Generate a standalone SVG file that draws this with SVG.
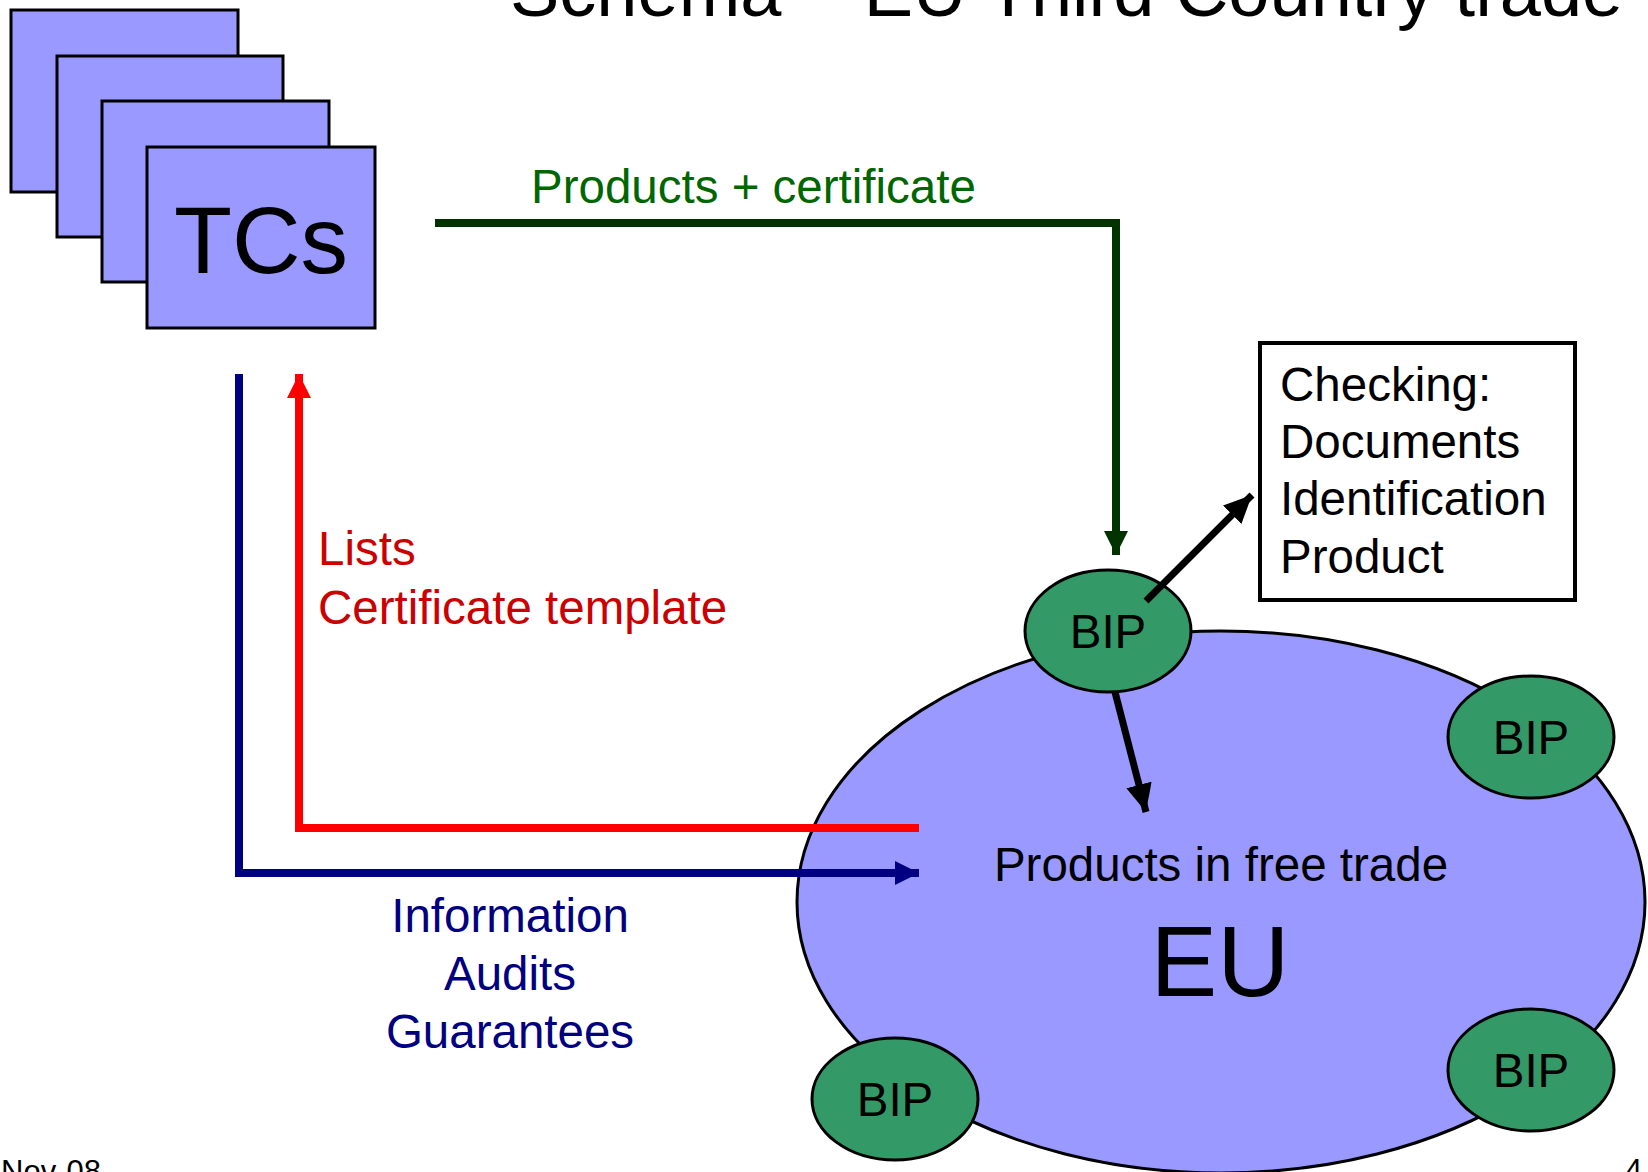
<svg xmlns="http://www.w3.org/2000/svg" width="1648" height="1172" viewBox="0 0 1648 1172">
<defs>
<style>
text { font-family: "Liberation Sans", Arial, sans-serif; }
.card { fill: #9999FF; stroke: #000; stroke-width: 3; }
.bip { fill: #339966; stroke: #000; stroke-width: 3; }
.lbl { font-size: 47.5px; fill: #000; }
.c { text-anchor: middle; }
</style>
<marker id="hg" markerUnits="userSpaceOnUse" markerWidth="24" markerHeight="24" viewBox="0 0 24 24" refX="24" refY="12" orient="auto"><path d="M0,0 L24,12 L0,24 Z" fill="#003300"/></marker>
<marker id="hr" markerUnits="userSpaceOnUse" markerWidth="24" markerHeight="24" viewBox="0 0 24 24" refX="24" refY="12" orient="auto"><path d="M0,0 L24,12 L0,24 Z" fill="#FF0000"/></marker>
<marker id="hb" markerUnits="userSpaceOnUse" markerWidth="24" markerHeight="24" viewBox="0 0 24 24" refX="24" refY="12" orient="auto"><path d="M0,0 L24,12 L0,24 Z" fill="#000080"/></marker>
<marker id="hk" markerUnits="userSpaceOnUse" markerWidth="28" markerHeight="26" viewBox="0 0 28 26" refX="28" refY="13" orient="auto"><path d="M0,0 L28,13 L0,26 Z" fill="#000"/></marker>
</defs>
<rect width="1648" height="1172" fill="#fff"/>

<text x="510" y="16" font-size="74">Schema – EU Third Country trade</text>

<g id="tcs">
<rect class="card" x="11" y="10" width="227" height="182"/>
<rect class="card" x="57" y="56" width="226" height="181"/>
<rect class="card" x="102" y="101" width="227" height="181"/>
<rect class="card" x="147" y="147" width="228" height="181"/>
<text x="261" y="273" font-size="95" class="c">TCs</text>
</g>

<g id="eu">
<ellipse cx="1221" cy="902" rx="424" ry="271" fill="#9999FF" stroke="#000" stroke-width="3"/>
<text x="1221" y="881" class="lbl c">Products in free trade</text>
<text x="1220" y="996" font-size="100" class="c">EU</text>
</g>

<g id="bip1"><ellipse class="bip" cx="1108" cy="631" rx="83" ry="61"/><text x="1108" y="648" class="lbl c">BIP</text></g>
<g id="bip2"><ellipse class="bip" cx="1531" cy="737" rx="83" ry="61"/><text x="1531" y="754" class="lbl c">BIP</text></g>
<g id="bip3"><ellipse class="bip" cx="895" cy="1099" rx="83" ry="61"/><text x="895" y="1116" class="lbl c">BIP</text></g>
<g id="bip4"><ellipse class="bip" cx="1531" cy="1070" rx="83" ry="61"/><text x="1531" y="1087" class="lbl c">BIP</text></g>

<g id="checking">
<rect x="1260" y="343" width="315" height="257" fill="#fff" stroke="#000" stroke-width="4"/>
<text x="1280" y="401" class="lbl">Checking:</text>
<text x="1280" y="458" class="lbl">Documents</text>
<text x="1280" y="515" class="lbl">Identification</text>
<text x="1280" y="573" class="lbl">Product</text>
</g>

<g id="connectors" fill="none">
<polyline points="435,223 1116,223 1116,555" stroke="#003300" stroke-width="8" marker-end="url(#hg)"/>
<polyline points="919,828 299,828 299,374" stroke="#FF0000" stroke-width="8" marker-end="url(#hr)"/>
<polyline points="239,374 239,873 919,873" stroke="#000080" stroke-width="8" marker-end="url(#hb)"/>
<line x1="1146" y1="601" x2="1252" y2="495" stroke="#000" stroke-width="7" marker-end="url(#hk)"/>
<line x1="1115" y1="692" x2="1146" y2="812" stroke="#000" stroke-width="7" marker-end="url(#hk)"/>
</g>

<g id="labels">
<text x="531" y="203" font-size="47.5" fill="#006600">Products + certificate</text>
<text x="318" y="565" font-size="47.5" fill="#CC0000">Lists</text>
<text x="318" y="624" font-size="47.5" fill="#CC0000">Certificate template</text>
<text x="510" y="932" font-size="47.5" fill="#000080" class="c">Information</text>
<text x="510" y="990" font-size="47.5" fill="#000080" class="c">Audits</text>
<text x="510" y="1048" font-size="47.5" fill="#000080" class="c">Guarantees</text>
</g>

<text x="1" y="1182" font-size="31">Nov-08</text>
<text x="1625" y="1181" font-size="31">4</text>
</svg>
